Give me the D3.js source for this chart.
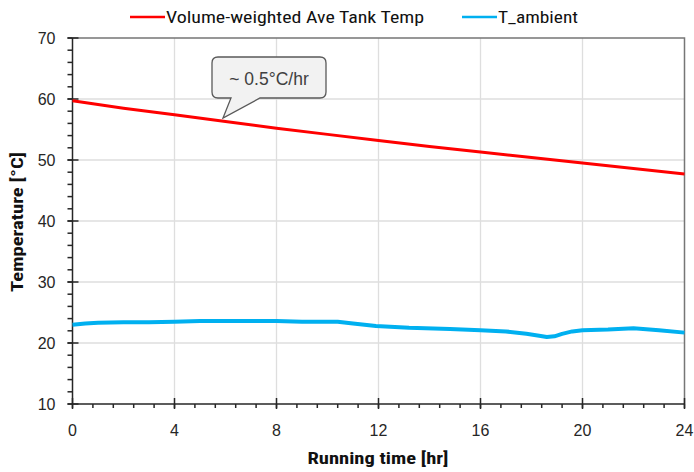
<!DOCTYPE html>
<html><head><meta charset="utf-8">
<script src="https://cdn.jsdelivr.net/npm/d3@7"></script>
<style>body{margin:0;background:#fff}svg{display:block}</style>
</head><body>
<svg id="c" width="694" height="472"></svg>
<script>
const xTicks = [0,4,8,12,16,20,24];
const yTicks = [10,20,30,40,50,60,70];
const seriesNames = ["Volume-weighted Ave Tank Temp","T_ambient"];
const seriesColors = ["#ff0000","#00b0f0"];
const tankTime = [0,2,4,6,8,10,12,14,16,18,20,22,24];
const tankTemp = [59.7,58.5,57.4,56.3,55.2,54.2,53.2,52.2,51.3,50.4,49.5,48.6,47.7];
const ambTime = [0,0.5,1,2,3,4,5,6,7,8,9,10,10.4,11,11.9,13.2,14.8,16,17,17.8,18.3,18.6,18.9,19.2,19.6,20,21,22,23,24];
const ambTemp = [23.0,23.2,23.3,23.4,23.4,23.5,23.6,23.6,23.6,23.6,23.5,23.5,23.5,23.2,22.8,22.5,22.3,22.1,21.9,21.5,21.2,21.0,21.1,21.5,21.9,22.1,22.2,22.4,22.1,21.7];
const annotation = "~ 0.5\u00B0C/hr";

const svg = d3.select("#c");
const x = d3.scaleLinear().domain([0,24]).range([72.5,684.5]);
const y = d3.scaleLinear().domain([10,70]).range([404,38]);

// grid
svg.append("g").selectAll("line").data(xTicks.slice(1,-1)).join("line")
  .attr("x1",d=>x(d)).attr("x2",d=>x(d)).attr("y1",y(10)).attr("y2",y(70))
  .attr("stroke","#dedede").attr("stroke-width",1.3);
svg.append("g").selectAll("line").data(yTicks.slice(1,-1)).join("line")
  .attr("y1",d=>y(d)).attr("y2",d=>y(d)).attr("x1",x(0)).attr("x2",x(24))
  .attr("stroke","#dedede").attr("stroke-width",1.3);

// frame top/right
svg.append("path").attr("d",`M${x(0)},${y(70)}H${x(24)}V${y(10)}`)
  .attr("fill","none").attr("stroke","#767676").attr("stroke-width",1.5);

// axes
const xMinor = d3.range(0,24.001,0.8);
const yMinor = d3.range(10,70.001,2);
const ax = svg.append("g").attr("stroke","#262626").attr("stroke-width",1.5);
ax.append("line").attr("x1",x(0)).attr("x2",x(24)).attr("y1",y(10)).attr("y2",y(10));
ax.append("line").attr("x1",x(0)).attr("x2",x(0)).attr("y1",y(10)).attr("y2",y(70));
ax.selectAll(".xm").data(xMinor).join("line")
  .attr("x1",d=>x(d)).attr("x2",d=>x(d)).attr("y1",y(10)).attr("y2",y(10)+4);
ax.selectAll(".xM").data(xTicks).join("line")
  .attr("x1",d=>x(d)).attr("x2",d=>x(d)).attr("y1",y(10)-6).attr("y2",y(10)+5);
ax.selectAll(".ym").data(yMinor).join("line")
  .attr("y1",d=>y(d)).attr("y2",d=>y(d)).attr("x1",x(0)-5).attr("x2",x(0));
ax.selectAll(".yM").data(yTicks).join("line")
  .attr("y1",d=>y(d)).attr("y2",d=>y(d)).attr("x1",x(0)-5).attr("x2",x(0)+6);

const lab = svg.append("g").attr("font-family","Liberation Sans, Arial, sans-serif")
  .attr("font-size",16).attr("fill","#262626");
lab.selectAll(".xl").data(xTicks).join("text")
  .attr("x",d=>x(d)).attr("y",y(10)+32).attr("text-anchor","middle").text(d=>d);
lab.selectAll(".yl").data(yTicks).join("text")
  .attr("x",x(0)-17).attr("y",d=>y(d)+6).attr("text-anchor","end").text(d=>d);

// axis titles
svg.append("text").attr("x",378).attr("y",464).attr("text-anchor","middle")
  .attr("font-family","Liberation Sans Narrow, Roboto Condensed, Arial, sans-serif")
  .attr("font-weight","bold").attr("font-size",16).attr("fill","#111")
  .attr("textLength",141).attr("lengthAdjust","spacingAndGlyphs").text("Running time [hr]");
svg.append("text").attr("transform","translate(23,222) rotate(-90)").attr("text-anchor","middle")
  .attr("font-family","Liberation Sans Narrow, Roboto Condensed, Arial, sans-serif")
  .attr("font-weight","bold").attr("font-size",16).attr("fill","#111")
  .attr("textLength",140).attr("lengthAdjust","spacingAndGlyphs").text("Temperature [\u00B0C]");

// lines
const line = d3.line().x(d=>x(d[0])).y(d=>y(d[1]));
svg.append("path").datum(ambTime.map((t,i)=>[t,ambTemp[i]]))
  .attr("d",line).attr("fill","none").attr("stroke",seriesColors[1]).attr("stroke-width",4)
  .attr("stroke-linejoin","round");
svg.append("path").datum(tankTime.map((t,i)=>[t,tankTemp[i]]))
  .attr("d",line).attr("fill","none").attr("stroke",seriesColors[0]).attr("stroke-width",3);

// legend
const legX = [130,462];
const legW = [258,80];
seriesNames.forEach((n,i)=>{
  svg.append("line").attr("x1",legX[i]).attr("x2",legX[i]+35).attr("y1",17).attr("y2",17)
    .attr("stroke",seriesColors[i]).attr("stroke-width",2.5);
  svg.append("text").attr("x",legX[i]+36).attr("y",23)
    .attr("font-family","Liberation Sans Narrow, Roboto Condensed, Arial, sans-serif")
    .attr("font-size",16).attr("fill","#111")
    .attr("textLength",legW[i]).attr("lengthAdjust","spacingAndGlyphs").text(n);
});

// callout
const bx0=212,bx1=326,by0=57,by1=98,r=6;
const tip=[223,118];
svg.append("path").attr("d",
 `M${bx0+r},${by0}H${bx1-r}Q${bx1},${by0} ${bx1},${by0+r}V${by1-r}Q${bx1},${by1} ${bx1-r},${by1}`+
 `H260L${tip[0]},${tip[1]}L231,${by1}H${bx0+r}Q${bx0},${by1} ${bx0},${by1-r}V${by0+r}Q${bx0},${by0} ${bx0+r},${by0}Z`)
 .attr("fill","#f2f2f2").attr("stroke","#595959").attr("stroke-width",1.3);
svg.append("text").attr("x",269).attr("y",85).attr("text-anchor","middle")
  .attr("font-family","Liberation Sans, Arial, sans-serif").attr("font-size",17.5)
  .attr("fill","#404040").text(annotation);
</script>
</body></html>
